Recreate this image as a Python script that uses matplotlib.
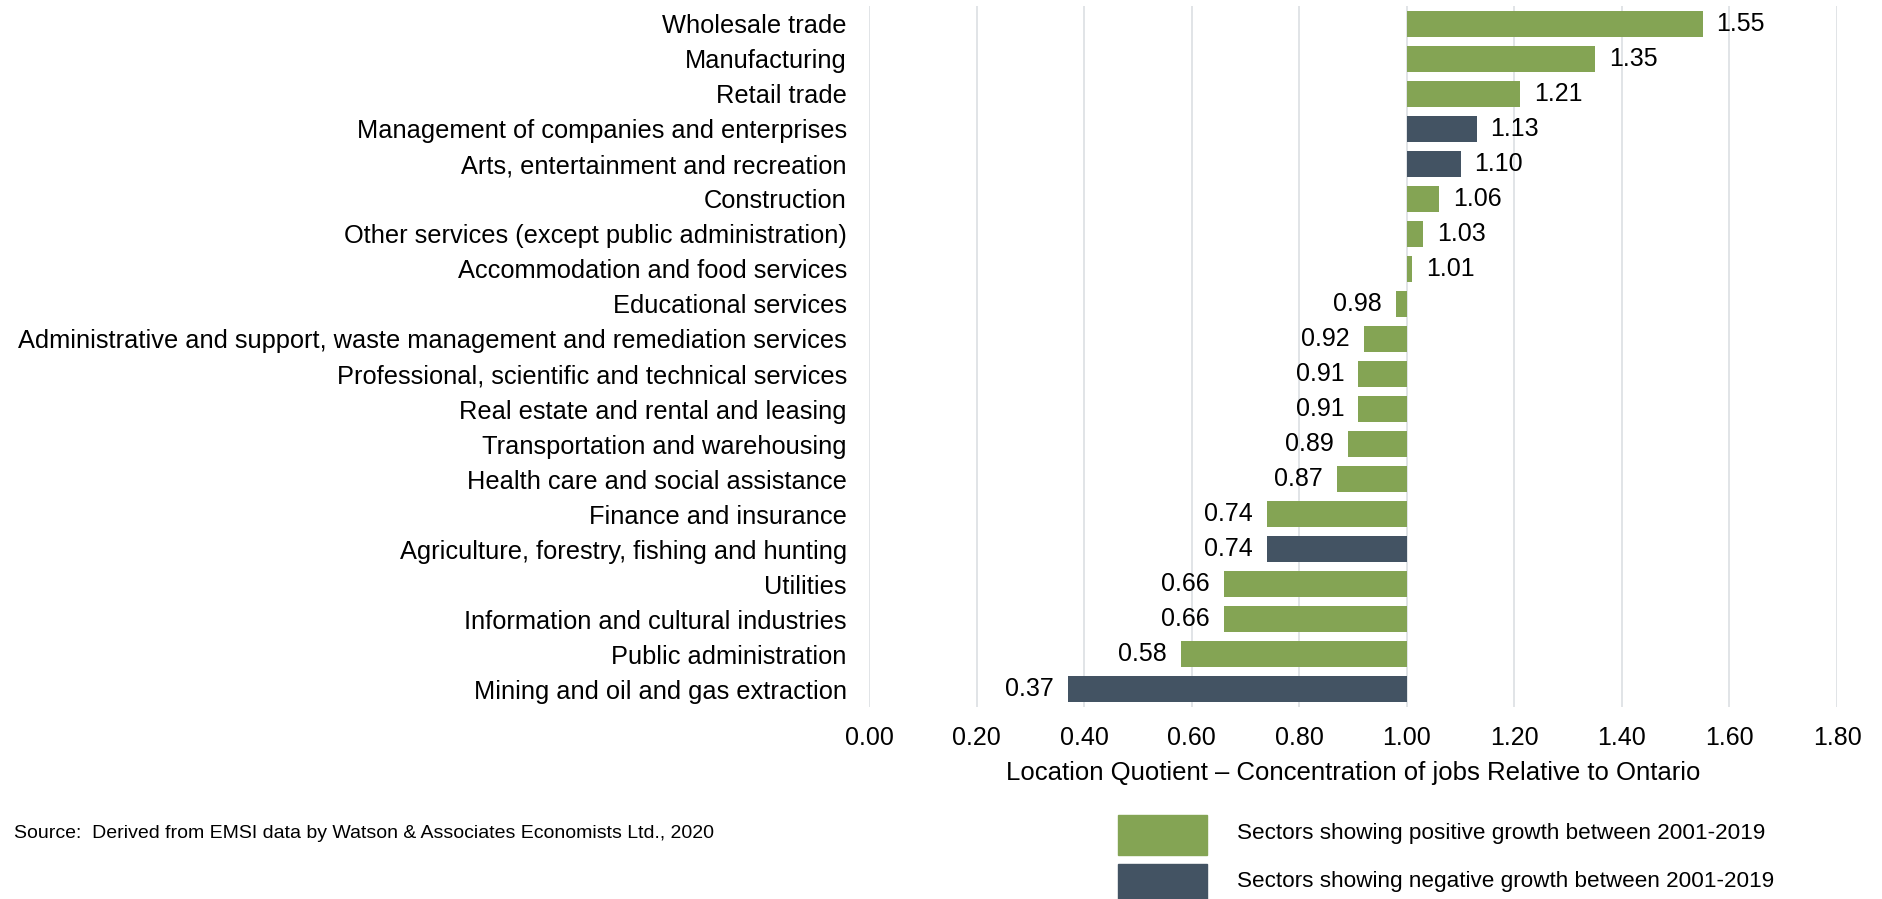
import matplotlib.pyplot as plt
from matplotlib.patches import Rectangle

plt.rcParams["font.family"] = ["Liberation Sans", "DejaVu Sans"]

sectors = [
    "Wholesale trade",
    "Manufacturing",
    "Retail trade",
    "Management of companies and enterprises",
    "Arts, entertainment and recreation",
    "Construction",
    "Other services (except public administration)",
    "Accommodation and food services",
    "Educational services",
    "Administrative and support, waste management and remediation services",
    "Professional, scientific and technical services",
    "Real estate and rental and leasing",
    "Transportation and warehousing",
    "Health care and social assistance",
    "Finance and insurance",
    "Agriculture, forestry, fishing and hunting",
    "Utilities",
    "Information and cultural industries",
    "Public administration",
    "Mining and oil and gas extraction",
]
lq = [1.55, 1.35, 1.21, 1.13, 1.10, 1.06, 1.03, 1.01, 0.98, 0.92,
      0.91, 0.91, 0.89, 0.87, 0.74, 0.74, 0.66, 0.66, 0.58, 0.37]
growth = ["pos", "pos", "pos", "neg", "neg", "pos", "pos", "pos", "pos", "pos",
          "pos", "pos", "pos", "pos", "pos", "neg", "pos", "pos", "pos", "neg"]
x_ticks = [0.0, 0.2, 0.4, 0.6, 0.8, 1.0, 1.2, 1.4, 1.6, 1.8]

GREEN = "#84A454"
DARK = "#435363"
colors = [GREEN if g == "pos" else DARK for g in growth]

fig = plt.figure(figsize=(18.83, 8.99), dpi=100)
ax = fig.add_axes([0.4615, 0.2141, 0.5141, 0.7787])

# bars start at LQ = 1.0 (Ontario baseline)
ypos = list(range(len(sectors)))
ax.barh(ypos, [v - 1.0 for v in lq], left=1.0, height=0.73, color=colors, zorder=3)
for y, v in zip(ypos, lq):
    if v >= 1.0:
        ax.annotate(f"{v:.2f}", (v, y), xytext=(10, 0), textcoords="offset points",
                    ha="left", va="center", fontsize=18)
    else:
        ax.annotate(f"{v:.2f}", (v, y), xytext=(-10, 0), textcoords="offset points",
                    ha="right", va="center", fontsize=18)

ax.set_xlim(0, 1.8)
ax.set_ylim(len(sectors) - 0.5, -0.5)
ax.set_yticks(ypos)
ax.set_yticklabels(sectors, fontsize=18.3)
ax.set_xticks(x_ticks)
ax.set_xticklabels([f"{t:.2f}" for t in x_ticks], fontsize=18)
ax.tick_params(axis="both", length=0)
ax.tick_params(axis="y", pad=16)
ax.tick_params(axis="x", pad=14)
ax.grid(axis="x", color="#DCDFE3", linewidth=1.2, zorder=0)
for s in ax.spines.values():
    s.set_visible(False)
ax.set_xlabel("Location Quotient \u2013 Concentration of jobs Relative to Ontario",
              fontsize=18.5, labelpad=8)

fig.text(0.0075, 1 - 834 / 899, "Source:  Derived from EMSI data by Watson & Associates Economists Ltd., 2020",
         fontsize=14, va="center", ha="left")

# legend drawn manually as in the original layout
fig.patches.append(Rectangle((1118 / 1883, 1 - 855 / 899), 89 / 1883, 40 / 899,
                             transform=fig.transFigure, color=GREEN))
fig.patches.append(Rectangle((1118 / 1883, 1 - 900 / 899), 89 / 1883, 36 / 899,
                             transform=fig.transFigure, color=DARK))
fig.text(1237 / 1883, 1 - 834 / 899, "Sectors showing positive growth between 2001-2019",
         fontsize=16.2, va="center", ha="left")
fig.text(1237 / 1883, 1 - 882 / 899, "Sectors showing negative growth between 2001-2019",
         fontsize=16.2, va="center", ha="left")

fig.savefig("out.png", dpi=100)
